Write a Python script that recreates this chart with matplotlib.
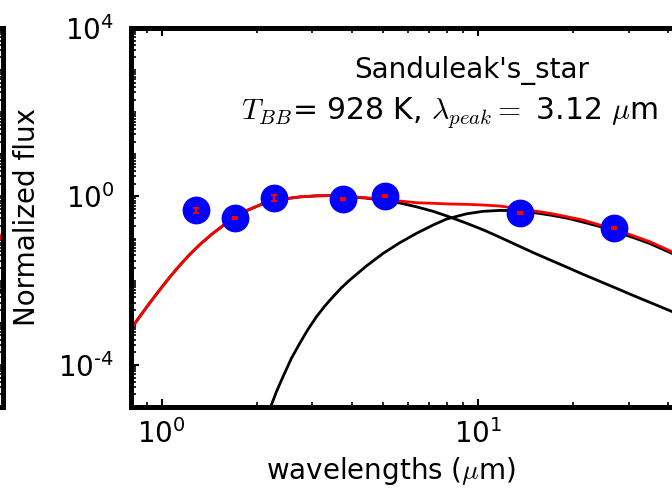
import numpy as np
import matplotlib
matplotlib.use("Agg")
import matplotlib.pyplot as plt
from matplotlib.ticker import FixedLocator, FixedFormatter, LogLocator, NullFormatter

plt.rcParams['mathtext.fontset'] = 'cm'
plt.rcParams['axes.unicode_minus'] = False
plt.rcParams['font.family'] = 'DejaVu Sans'

# photometry (wavelength in micron, normalized flux)
wave = [1.28, 1.71, 2.27, 3.76, 5.09, 13.6, 27.0]
flux = [0.475, 0.312, 0.931, 0.882, 1.04, 0.397, 0.181]
flux_err = [0.065, 0.017, 0.17, 0.04, 0.05, 0.02, 0.01]

# total fit (red)
fit_wave = [0.798, 0.852, 0.916, 0.9855, 1.060, 1.140, 1.226, 1.319, 1.453, 1.545,
            1.641, 1.744, 1.854, 1.969, 2.092, 2.363, 2.734, 3.088, 3.484, 3.936,
            4.44, 5.02, 5.665, 6.40, 7.22, 8.15, 9.21, 10.4, 11.74, 13.26,
            14.96, 16.9, 19.09, 21.5, 24.32, 27.5, 31.0, 35.0, 41.1, 50.0]
fit_total = [7.0e-4, 1.39e-3, 2.92e-3, 6.01e-3, 0.01198, 0.02284, 0.0415, 0.0713, 0.133, 0.1886,
             0.268, 0.346, 0.457, 0.554, 0.671, 0.844, 0.973, 1.033, 1.05, 0.99,
             0.931, 0.853, 0.778, 0.708, 0.686, 0.660, 0.649, 0.625, 0.591, 0.521,
             0.457, 0.397, 0.330, 0.275, 0.209, 0.159, 0.1165, 0.0839, 0.0486, 0.0248]

# hot component (black)
hot_wave = [0.798, 0.852, 0.916, 0.9855, 1.060, 1.140, 1.226, 1.319, 1.453, 1.545,
            1.641, 1.744, 1.854, 1.969, 2.092, 2.363, 2.734, 3.088, 3.484, 3.936,
            4.44, 5.02, 5.665, 6.40, 7.22, 7.96, 9.21, 10.4, 11.74, 13.26,
            14.96, 16.9, 19.09, 21.5, 24.32, 27.5, 31.0, 35.0, 41.1, 50.0]
hot_flux = [7.0e-4, 1.39e-3, 2.92e-3, 6.01e-3, 0.01198, 0.02284, 0.0415, 0.0713, 0.133, 0.1886,
            0.268, 0.346, 0.457, 0.554, 0.671, 0.844, 0.973, 1.032, 1.046, 0.98,
            0.909, 0.81, 0.70, 0.566, 0.443, 0.346, 0.231, 0.161, 0.1074, 0.0704,
            0.0465, 0.0312, 0.0210, 0.0142, 9.62e-3, 6.53e-3, 4.45e-3, 3.05e-3, 1.85e-3, 1.02e-3]

# cool component (black)
cool_wave = [2.134, 2.234, 2.307, 2.42, 2.573, 2.734, 2.904, 3.088, 3.281, 3.484,
             3.704, 3.936, 4.44, 5.02, 5.665, 6.40, 7.22, 7.96, 9.21, 10.4,
             11.74, 13.26, 14.96, 16.9, 19.09, 21.5, 24.32, 27.5, 31.0, 35.0, 41.1, 50.0]
cool_flux = [4.9e-6, 1.22e-5, 2.30e-5, 5.21e-5, 1.43e-4, 3.24e-4, 6.97e-4, 1.39e-3, 2.49e-3, 4.15e-3,
             6.78e-3, 0.01033, 0.0222, 0.0445, 0.0795, 0.133, 0.209, 0.290, 0.386, 0.443,
             0.465, 0.460, 0.415, 0.362, 0.307, 0.246, 0.193, 0.143, 0.1057, 0.0761, 0.0445, 0.0222]

ytick_vals = [1e-4, 1, 1e4]
ytick_labels = [r'$\mathdefault{10^{' + '\u2010' + r'4}}$', r'$\mathdefault{10^{0}}$',
                r'$\mathdefault{10^{4}}$']

# fragment of the neighbouring panel on the left
side_x = [0.990, 1.0]
side_red = [0.092, 0.143]
side_black = [5.4e-3, 6.7e-3]

fig = plt.figure(figsize=(6.72, 4.95), dpi=100)

spine_w = 3.6

# neighbouring panel (only its right edge shows)
ax0 = fig.add_axes([-0.6, 0.1778, 0.6045, 0.7657])
ax0.set_yscale('log')
ax0.set_ylim(1e-5, 1e4)
ax0.set_xlim(0, 1)
ax0.plot(side_x, side_red, color='red', lw=2)
ax0.plot(side_x, side_black, color='black', lw=2)
for s in ax0.spines.values():
    s.set_linewidth(spine_w)
ax0.yaxis.set_minor_locator(LogLocator(base=10, subs=np.arange(1, 10), numticks=100))
ax0.tick_params(which='both', direction='in', right=True, labelleft=False, labelbottom=False)
ax0.tick_params(which='major', length=6, width=1.5)
ax0.tick_params(which='minor', length=3.5, width=1.2)

# main panel
ax = fig.add_axes([0.1949, 0.1778, 0.845, 0.7657])
ax.set_xscale('log')
ax.set_yscale('log')

ax.plot(hot_wave, hot_flux, color='black', lw=2)
ax.plot(cool_wave, cool_flux, color='black', lw=2)
ax.plot(fit_wave, fit_total, color='red', lw=2)
ax.plot(wave, flux, 'o', color='blue', ms=19, mec='blue', zorder=4)
ax.errorbar(wave, flux, yerr=flux_err, fmt='none', ecolor='red', elinewidth=1.5,
            capsize=2.5, capthick=1.5, zorder=5)

ax.set_xlim(0.8, 50)
ax.set_ylim(1e-5, 1e4)

ax.yaxis.set_major_locator(FixedLocator(ytick_vals))
ax.yaxis.set_major_formatter(FixedFormatter(ytick_labels))
ax.yaxis.set_minor_locator(LogLocator(base=10, subs=np.arange(1, 10), numticks=100))
ax.yaxis.set_minor_formatter(NullFormatter())
ax.xaxis.set_minor_formatter(NullFormatter())

for s in ax.spines.values():
    s.set_linewidth(spine_w)
ax.tick_params(which='both', direction='in', top=True, right=True)
ax.tick_params(which='major', length=6, width=1.5, labelsize=20)
ax.tick_params(axis='y', which='major', pad=12)
ax.tick_params(axis='x', which='major', pad=9)
ax.tick_params(which='minor', length=3.5, width=1.2)

ax.set_ylabel("Normalized flux", fontsize=20)
ax.yaxis.set_label_coords(-0.158, 0.5)
ax.set_xlabel(r"wavelengths ($\mu$m)", fontsize=20)
ax.xaxis.set_label_coords(0.458, -0.127)

ax.text(0.600, 0.8865, "Sanduleak's_star", transform=ax.transAxes,
        ha='center', va='center', fontsize=20)
ax.text(0.5616, 0.7757, r"$T_{BB}$= 928 K, $\lambda_{peak}=$ 3.12 $\mu$m",
        transform=ax.transAxes, ha='center', va='center', fontsize=21.5)

fig.savefig("out.png", dpi=100)
